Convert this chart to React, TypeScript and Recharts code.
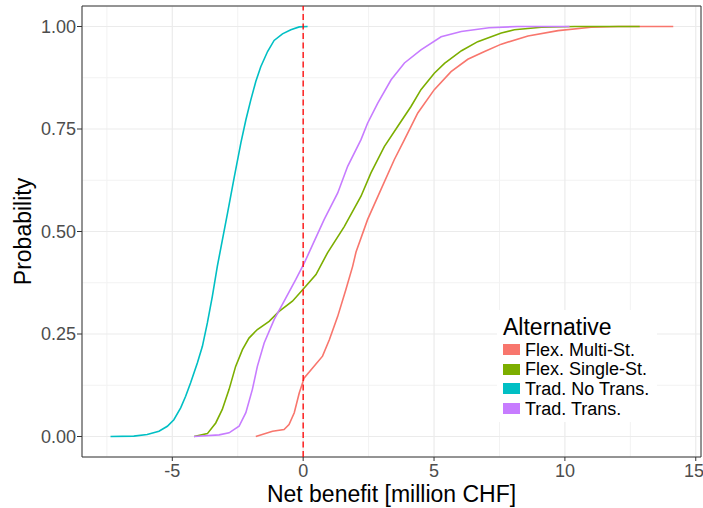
import {
  LineChart, Line, XAxis, YAxis, CartesianGrid, ReferenceLine, ReferenceArea,
} from 'recharts';

// axis ticks (major + minor grid)
const X_TICKS = [-5, 0, 5, 10, 15];
const Y_TICKS = [0, 0.25, 0.5, 0.75, 1];
const X_MINOR = [-7.5, -2.5, 2.5, 7.5, 12.5];
const Y_MINOR = [0.125, 0.375, 0.625, 0.875];

// ECDF points: [net benefit, probability]
const flexMulti: [number, number][] = [
  [-1.81, 0], [-1.17, 0.013], [-0.73, 0.017], [-0.54, 0.029], [-0.34, 0.058],
  [-0.15, 0.106], [0.04, 0.143], [0.36, 0.167], [0.74, 0.196], [1.0, 0.236],
  [1.32, 0.293], [1.63, 0.358], [1.89, 0.415], [2.02, 0.45], [2.46, 0.529],
  [2.97, 0.602], [3.48, 0.675], [3.87, 0.724], [4.38, 0.789], [5.01, 0.846],
  [5.65, 0.89], [6.29, 0.92], [6.93, 0.939], [7.57, 0.957], [8.59, 0.977],
  [9.74, 0.99], [11.0, 0.998], [12.03, 1.0], [14.14, 1.0],
];

const flexSingle: [number, number][] = [
  [-4.17, 0], [-3.66, 0.007], [-3.34, 0.033], [-3.09, 0.066], [-2.83, 0.115],
  [-2.58, 0.171], [-2.32, 0.212], [-2.07, 0.24], [-1.75, 0.261], [-1.3, 0.281],
  [-0.92, 0.305], [-0.41, 0.33], [0.04, 0.362], [0.49, 0.395], [0.93, 0.448],
  [1.57, 0.512], [2.21, 0.586], [2.59, 0.643], [3.1, 0.707], [3.61, 0.756],
  [4.12, 0.805], [4.5, 0.846], [5.01, 0.886], [5.4, 0.91], [6.05, 0.941],
  [6.67, 0.963], [7.57, 0.984], [8.07, 0.992], [9.1, 0.998], [10.37, 1.0],
  [12.86, 1.0],
];

const tradNoTrans: [number, number][] = [
  [-7.36, 0], [-6.47, 0.001], [-5.96, 0.005], [-5.51, 0.013], [-5.19, 0.025],
  [-4.94, 0.041], [-4.68, 0.07], [-4.49, 0.098], [-4.3, 0.131], [-4.04, 0.18],
  [-3.85, 0.22], [-3.66, 0.277], [-3.47, 0.342], [-3.28, 0.415], [-3.13, 0.465],
  [-2.89, 0.545], [-2.64, 0.63], [-2.38, 0.716], [-2.19, 0.772], [-2.0, 0.821],
  [-1.81, 0.866], [-1.62, 0.902], [-1.36, 0.939], [-1.11, 0.966], [-0.79, 0.982],
  [-0.47, 0.992], [-0.15, 0.999], [0.17, 1.0],
];

const tradTrans: [number, number][] = [
  [-4.17, 0], [-3.21, 0.004], [-2.83, 0.009], [-2.45, 0.025], [-2.19, 0.058],
  [-1.94, 0.115], [-1.75, 0.171], [-1.49, 0.228], [-1.11, 0.285], [-0.66, 0.338],
  [-0.28, 0.383], [0.04, 0.423], [0.25, 0.452], [0.8, 0.529], [1.32, 0.594],
  [1.7, 0.659], [2.21, 0.724], [2.46, 0.764], [2.85, 0.813], [3.36, 0.87],
  [3.87, 0.911], [4.5, 0.943], [5.27, 0.975], [6.04, 0.988], [7.1, 0.997],
  [8.2, 1.0], [10.18, 1.0],
];

const SERIES = [
  { name: 'Flex. Multi-St.', color: '#F8766D', points: flexMulti },
  { name: 'Flex. Single-St.', color: '#7CAE00', points: flexSingle },
  { name: 'Trad. No Trans.', color: '#00BFC4', points: tradNoTrans },
  { name: 'Trad. Trans.', color: '#C77CFF', points: tradTrans },
];

const FONT = '"Liberation Sans", Arial, sans-serif';
const X_DOMAIN: [number, number] = [-8.45, 15.2];
const Y_DOMAIN: [number, number] = [-0.05, 1.05];

export default function App() {
  return (
    <div style={{ position: 'absolute', left: 0, top: 0, width: 703, height: 508, background: '#fff', fontFamily: FONT }}>
      <LineChart width={703} height={508} margin={{ top: 6, right: 2, bottom: 1, left: 0 }}>
        {/* minor grid */}
        <CartesianGrid
          stroke="#F2F2F2"
          strokeWidth={1}
          verticalValues={X_MINOR}
          horizontalValues={Y_MINOR}
        />
        {/* major grid */}
        <CartesianGrid stroke="#EBEBEB" strokeWidth={1.2} />
        <XAxis
          type="number"
          dataKey="x"
          domain={X_DOMAIN}
          ticks={X_TICKS}
          allowDataOverflow
          height={50}
          axisLine={false}
          tickSize={4}
          tickMargin={3}
          tickLine={{ stroke: '#333333' }}
          tick={{ fill: '#4D4D4D', fontSize: 18, fontFamily: FONT }}
          label={{ value: 'Net benefit [million CHF]', position: 'insideBottom', offset: 5, fill: '#000', fontSize: 23, fontFamily: FONT }}
        />
        <YAxis
          type="number"
          domain={Y_DOMAIN}
          ticks={Y_TICKS}
          allowDataOverflow
          width={82}
          axisLine={false}
          tickSize={5}
          tickMargin={1}
          tickLine={{ stroke: '#333333' }}
          tickFormatter={(v: number) => v.toFixed(2)}
          tick={{ fill: '#4D4D4D', fontSize: 18, fontFamily: FONT }}
          label={{ value: 'Probability', angle: -90, position: 'insideLeft', offset: 23, fill: '#000', fontSize: 23, fontFamily: FONT, style: { textAnchor: 'middle' } }}
        />
        <ReferenceArea
          x1={X_DOMAIN[0]} x2={X_DOMAIN[1]} y1={Y_DOMAIN[0]} y2={Y_DOMAIN[1]}
          fill="none" stroke="#333333" strokeWidth={1} fillOpacity={0}
        />
        {SERIES.map(s => (
          <Line
            key={s.name}
            name={s.name}
            data={s.points.map(([x, p]) => ({ x, p }))}
            dataKey="p"
            type="linear"
            stroke={s.color}
            strokeWidth={1.6}
            dot={false}
            activeDot={false}
            isAnimationActive={false}
          />
        ))}
        <ReferenceLine x={0} stroke="#FF0000" strokeWidth={1.3} strokeDasharray="6 3.5" />
      </LineChart>

      {/* legend */}
      <div style={{ position: 'absolute', left: 497, top: 310, width: 160, height: 112, background: '#fff' }}>
        <div style={{ position: 'absolute', left: 6, top: 4, fontSize: 23, lineHeight: '26px', color: '#000', whiteSpace: 'nowrap' }}>
          Alternative
        </div>
        {SERIES.map((s, i) => (
          <div key={s.name} style={{ position: 'absolute', left: 6, top: 34 + i * 19.7, height: 11, display: 'flex', alignItems: 'center' }}>
            <div style={{ width: 17, height: 11, background: s.color }} />
            <span style={{ marginLeft: 5, fontSize: 18, lineHeight: '18px', color: '#000', whiteSpace: 'nowrap' }}>{s.name}</span>
          </div>
        ))}
      </div>
    </div>
  );
}
